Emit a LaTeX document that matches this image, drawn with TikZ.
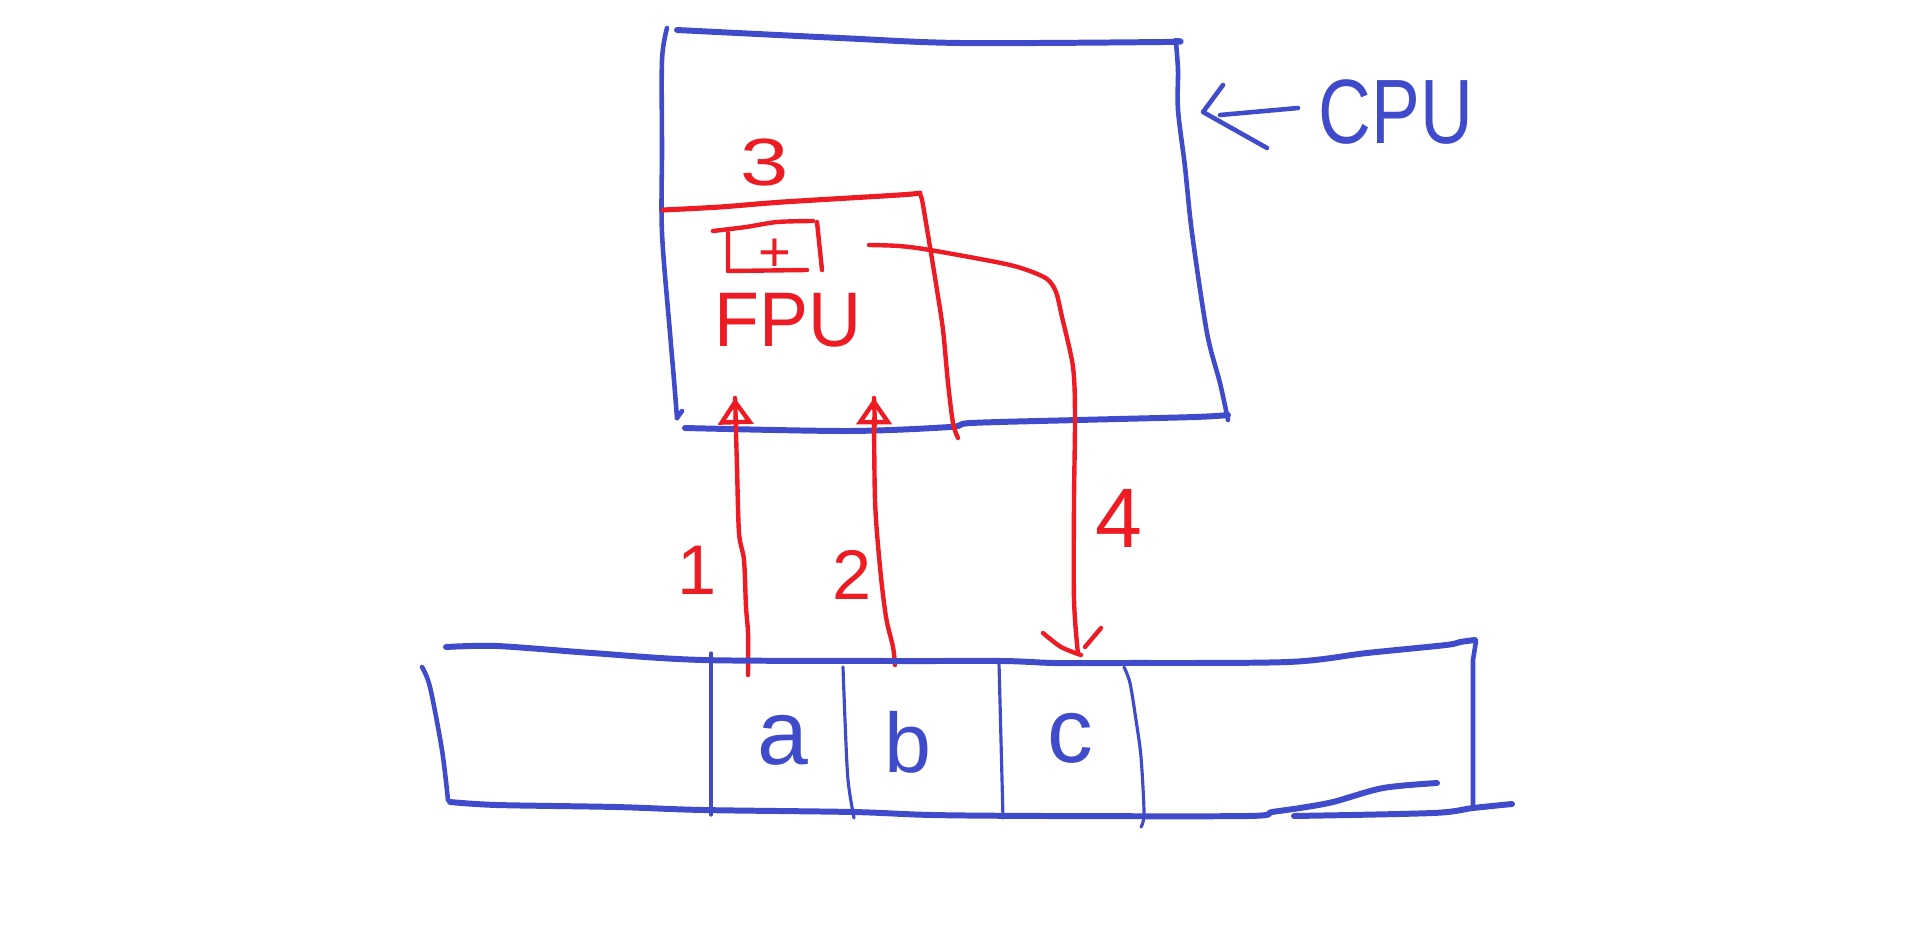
\documentclass[tikz,border=0pt]{standalone}
\usepackage{fontspec}
\setmainfont{Liberation Sans}
\usetikzlibrary{arrows.meta}
\definecolor{penblue}{RGB}{63,75,203}
\definecolor{penred}{RGB}{237,28,36}
\begin{document}
\begin{tikzpicture}[x=0.01cm,y=-0.01cm, line cap=round, line join=round,
  blthick/.style={penblue, line width=1.7pt},
  blmid/.style={penblue, line width=1.3pt},
  blthin/.style={penblue, line width=0.9pt},
  rd/.style={penred, line width=1.25pt},
  rdthick/.style={penred, line width=1.45pt},
  hand/.style={inner sep=0pt, font=\fontsize{#1}{#1}\selectfont},
  hand/.default=20,
  opentip/.style={-{Triangle[open,length=7.5pt,width=10pt]}}
]
\useasboundingbox (0,0) rectangle (1924,948);

% ---------- CPU box ----------
\draw[blmid] plot[smooth] coordinates {(667,28) (662,60) (662,150) (662,233) (670,333) (674,380) (677,418)};
\draw[blmid] (677,418) -- (682,411);
\draw[blthick] plot[smooth] coordinates {(677,30) (840,38) (960,43) (1164,42) (1175,41)};
\draw[blmid] plot[smooth] coordinates {(1176,43) (1178,70) (1178,110) (1185,167) (1192,233) (1207,333) (1220,383) (1228,420)};
\draw[blthick] plot[smooth] coordinates {(685,428) (848,431) (950,427) (971,423) (1078,420) (1195,417) (1228,415)};

% CPU label with arrow
\node[hand=26, text=penblue] (cpu) at (1396,112) {\scalebox{0.8}[1]{CPU}};
\coordinate (cputip) at (1203,112);
\draw[blmid] (1223,85) -- (cputip) -- (1267,148);
\draw[blmid] (1298,108) -- (1220,115);

% ---------- FPU (red) ----------
\node[hand=19, text=penred] (three) at (765,162) {\scalebox{1.3}[1]{3}};
\draw[rdthick] plot[smooth] coordinates {(663,210) (720,207) (783,202) (899,195) (920,193)};
\draw[rd] plot[smooth] coordinates {(921,196) (923,205) (930,247) (937,290) (943,330) (948,383) (953,423) (958,438)};
% adder box
\draw[rd] plot[smooth] coordinates {(713,231) (746,227) (777,222) (813,221)};
\draw[rd] (817,222) -- (822,270);
\draw[rd] (728,233) -- (728,271) -- (807,270);
\node[hand=16, text=penred] (plus) at (775,255) {+};
\node[hand=22, text=penred] (fpu) at (788,320) {\scalebox{0.95}[1]{FPU}};

% line 4 (from FPU down to memory cell c)
\coordinate (l4start) at (869,245);
\coordinate (l4end) at (1078,654);
\draw[rd] plot[smooth] coordinates {(l4start) (899,246) (930,250) (1001,263) (1027,270) (1047,279) (1056,292) (1062,317) (1073,367) (1075,417) (1074,500) (1074,600) (l4end)};
\draw[rd] plot[smooth] coordinates {(1043,633) (1061,647) (1081,655)};
\draw[rd] (1101,628) -- (1085,647);
\node[hand=24, text=penred] (four) at (1119,518) {4};

% arrow 1
\coordinate (a1foot) at (748,675);
\coordinate (a1tip) at (735,398);
\draw[rd, opentip] plot[smooth] coordinates {(a1foot) (748,633) (746,607) (744,560) (739,533) (737,467) (a1tip)};
\draw[rd] (736,425) -- (a1tip);
\node[hand=20, text=penred] (one) at (697,570) {1};

% arrow 2
\coordinate (a2foot) at (895,665);
\coordinate (a2tip) at (874,398);
\draw[rd, opentip] plot[smooth] coordinates {(a2foot) (893,647) (886,617) (880,567) (875,500) (a2tip)};
\draw[rd] (875,425) -- (a2tip);
\node[hand=20, text=penred] (two) at (852,575) {2};

% ---------- Memory (blue) ----------
\draw[blthick] plot[smooth] coordinates {(446,647) (497,646) (592,653) (703,660) (892,661) (1003,661) (1054,663) (1120,663) (1288,662) (1367,653) (1446,645) (1460,642) (1475,640)};
\draw[blmid] (1476,641) -- (1473,660) -- (1473,807);
\draw[blmid] plot[smooth] coordinates {(422,667) (430,687) (442,750) (448,800)};
\draw[blthick] plot[smooth] coordinates {(450,802) (497,805) (616,807) (703,810) (853,812) (932,815) (1050,816) (1248,816) (1272,812) (1300,808) (1333,802) (1383,788) (1437,783)};
\draw[blthick] plot[smooth] coordinates {(1294,816) (1433,813) (1473,808) (1512,804)};
% dividers
\draw[blthin] (711,653) -- (711,815);
\draw[blthin] plot[smooth] coordinates {(843,667) (845,720) (848,780) (854,818)};
\draw[blthin] (999,663) -- (1003,818);
\draw[blthin] plot[smooth] coordinates {(1124,667) (1130,683) (1136,720) (1141,757) (1144,813) (1141,827)};
\node[hand=26, text=penblue] (ca) at (783,740) {a};
\node[hand=24, text=penblue] (cb) at (908,742) {b};
\node[hand=26, text=penblue] (cc) at (1070,738) {c};
\end{tikzpicture}
\end{document}
